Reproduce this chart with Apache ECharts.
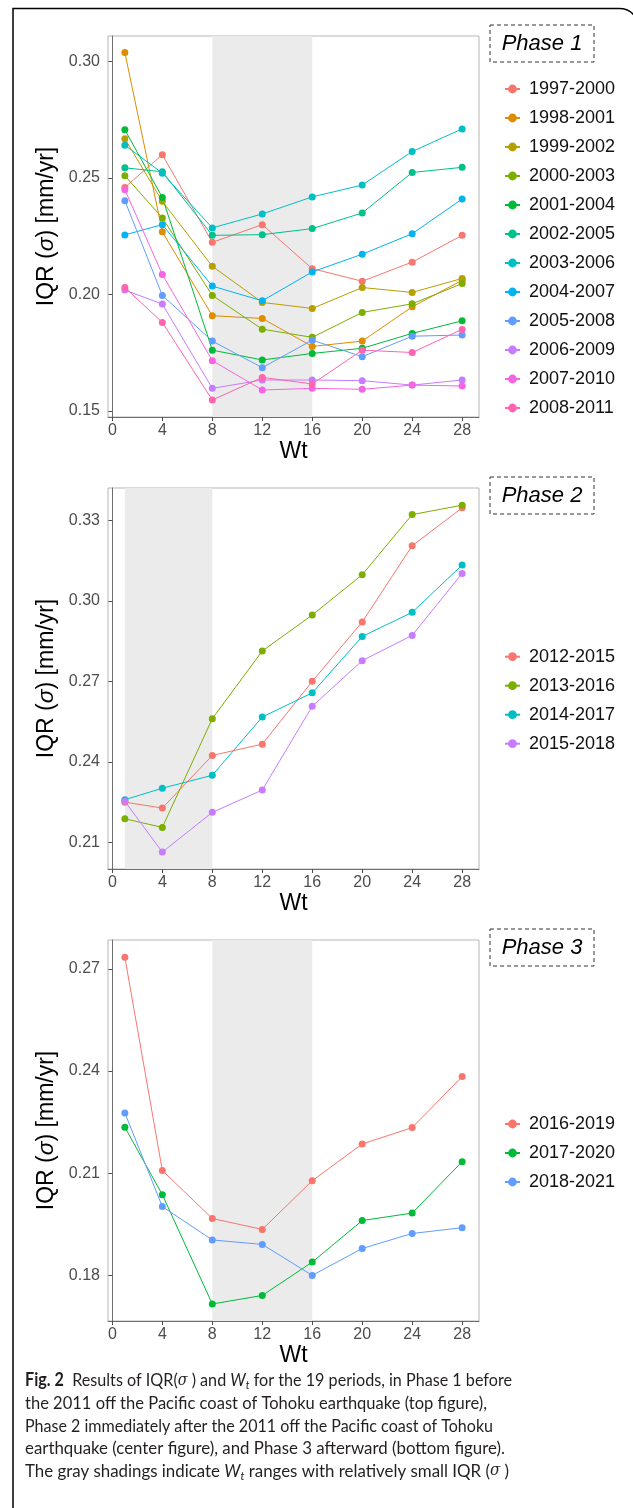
<!DOCTYPE html>
<html>
<head>
<meta charset="utf-8">
<script src="https://cdn.jsdelivr.net/npm/echarts@6/dist/echarts.min.js"></script>
<style>
  html, body { margin: 0; padding: 0; background: #ffffff; }
  #chart { width: 633px; height: 1508px; }
</style>
</head>
<body>
<div id="chart"></div>
<script>
// ---------------- data ----------------
const wt = [1, 4, 8, 12, 16, 20, 24, 28];
const xTicks = [0, 4, 8, 12, 16, 20, 24, 28];

const p1Periods = ['1997-2000', '1998-2001', '1999-2002', '2000-2003', '2001-2004', '2002-2005',
                   '2003-2006', '2004-2007', '2005-2008', '2006-2009', '2007-2010', '2008-2011'];
const p1Values = [
  [0.2460, 0.2600, 0.2224, 0.2300, 0.2111, 0.2057, 0.2139, 0.2254],
  [0.3039, 0.2269, 0.1909, 0.1897, 0.1777, 0.1800, 0.1947, 0.2061],
  [0.2669, 0.2400, 0.2121, 0.1966, 0.1940, 0.2030, 0.2009, 0.2069],
  [0.2510, 0.2329, 0.1996, 0.1851, 0.1816, 0.1923, 0.1960, 0.2047],
  [0.2707, 0.2417, 0.1761, 0.1719, 0.1747, 0.1769, 0.1833, 0.1887],
  [0.2544, 0.2527, 0.2254, 0.2257, 0.2283, 0.2350, 0.2524, 0.2546],
  [0.2641, 0.2521, 0.2286, 0.2346, 0.2419, 0.2470, 0.2614, 0.2711],
  [0.2256, 0.2300, 0.2036, 0.1973, 0.2097, 0.2173, 0.2261, 0.2410],
  [0.2403, 0.1996, 0.1800, 0.1686, 0.1804, 0.1733, 0.1821, 0.1826],
  [0.2019, 0.1959, 0.1597, 0.1633, 0.1633, 0.1630, 0.1611, 0.1633],
  [0.2450, 0.2086, 0.1716, 0.1590, 0.1597, 0.1593, 0.1611, 0.1607],
  [0.2030, 0.1880, 0.1547, 0.1644, 0.1616, 0.1761, 0.1751, 0.1850]
];
const p1YTicks = [0.15, 0.20, 0.25, 0.30];
const p1Shade = [8, 16];

const p2Periods = ['2012-2015', '2013-2016', '2014-2017', '2015-2018'];
const p2Values = [
  [0.2250, 0.2228, 0.2424, 0.2466, 0.2700, 0.2921, 0.3205, 0.3346],
  [0.2188, 0.2156, 0.2561, 0.2813, 0.2947, 0.3097, 0.3321, 0.3356],
  [0.2259, 0.2302, 0.2350, 0.2567, 0.2657, 0.2867, 0.2957, 0.3133],
  [0.2253, 0.2064, 0.2212, 0.2295, 0.2607, 0.2777, 0.2871, 0.3102]
];
const p2YTicks = [0.21, 0.24, 0.27, 0.30, 0.33];
const p2Shade = [1, 8];

const p3Periods = ['2016-2019', '2017-2020', '2018-2021'];
const p3Values = [
  [0.2734, 0.2108, 0.1967, 0.1935, 0.2078, 0.2186, 0.2234, 0.2384],
  [0.2235, 0.2037, 0.1716, 0.1741, 0.1839, 0.1961, 0.1983, 0.2134],
  [0.2277, 0.2002, 0.1904, 0.1891, 0.1800, 0.1879, 0.1923, 0.1940]
];
const p3YTicks = [0.18, 0.21, 0.24, 0.27];
const p3Shade = [8, 16];

const capLines = [
  '{b|Fig. 2}  Results of IQR({i|\u03c3} ) and {w|W}{sub|t} for the 19 periods, in Phase 1 before',
  'the 2011 off the Pacific coast of Tohoku earthquake (top figure),',
  'Phase 2 immediately after the 2011 off the Pacific coast of Tohoku',
  'earthquake (center figure), and Phase 3 afterward (bottom figure).',
  'The gray shadings indicate {w|W}{sub|t} ranges with relatively small IQR ({i|\u03c3} )'
];

// ---------------- styles / layout ----------------
const p1Colors = ['#F8766D', '#DE8C00', '#B79F00', '#7CAE00', '#00BA38', '#00C08B',
                  '#00BFC4', '#00B4F0', '#619CFF', '#C77CFF', '#F564E3', '#FF64B0'];
const p2Colors = ['#F8766D', '#7CAE00', '#00BFC4', '#C77CFF'];
const p3Colors = ['#F8766D', '#00BA38', '#619CFF'];
const capRightEdges = [512, 487, 493, 505, 509];

const FONT = "'Liberation Sans', Arial, sans-serif";
const panels = [
  { periods: p1Periods, values: p1Values, colors: p1Colors, yTicks: p1YTicks, shade: p1Shade,
    top: 36, yMin: 0.1474, yMax: 0.3110, legendTop: 74, boxTop: 25, label: 'Phase 1' },
  { periods: p2Periods, values: p2Values, colors: p2Colors, yTicks: p2YTicks, shade: p2Shade,
    top: 488, yMin: 0.2001, yMax: 0.3420, legendTop: 641.7, boxTop: 477, label: 'Phase 2' },
  { periods: p3Periods, values: p3Values, colors: p3Colors, yTicks: p3YTicks, shade: p3Shade,
    top: 940, yMin: 0.1666, yMax: 0.2785, legendTop: 1109, boxTop: 929, label: 'Phase 3' }
];

const grids = [], xAxes = [], yAxes = [], series = [], legends = [], graphics = [];

panels.forEach((p, k) => {
  grids.push({ left: 108, top: p.top, width: 371, height: 381, show: true,
               borderColor: '#b5b5b5', borderWidth: 1, backgroundColor: '#ffffff' });
  xAxes.push({
    gridIndex: k, type: 'value', min: -0.35, max: 29.35,
    name: 'Wt', nameLocation: 'middle', nameGap: 22,
    nameTextStyle: { fontFamily: FONT, fontSize: 23, color: '#000000' },
    axisLine: { show: true, lineStyle: { color: '#6e6e6e', width: 1 } },
    axisTick: { show: true, length: 4, customValues: xTicks, lineStyle: { color: '#4d4d4d' } },
    axisLabel: { customValues: xTicks, margin: 6, fontFamily: FONT, fontSize: 16, color: '#4d4d4d' },
    splitLine: { show: false }
  });
  yAxes.push({
    gridIndex: k, type: 'value', min: p.yMin, max: p.yMax,
    name: 'IQR ({s|\u03c3}) [mm/yr]', nameLocation: 'middle', nameGap: 45, nameRotate: 90,
    nameTextStyle: { fontFamily: FONT, fontSize: 23, color: '#000000',
                     rich: { s: { fontFamily: FONT, fontSize: 23, fontStyle: 'italic', color: '#000000' } } },
    axisLine: { show: true, lineStyle: { color: '#6e6e6e', width: 1 } },
    axisTick: { show: true, length: 4, customValues: p.yTicks, lineStyle: { color: '#4d4d4d' } },
    axisLabel: { customValues: p.yTicks, margin: 8, fontFamily: FONT, fontSize: 16, color: '#4d4d4d',
                 formatter: v => v.toFixed(2) },
    splitLine: { show: false }
  });
  p.periods.forEach((name, i) => {
    const s = {
      name: name, type: 'line', xAxisIndex: k, yAxisIndex: k,
      data: wt.map((w, j) => [w, p.values[i][j]]),
      symbol: 'circle', symbolSize: 7, showSymbol: true,
      color: p.colors[i],
      lineStyle: { width: 1, color: p.colors[i] },
      itemStyle: { color: p.colors[i] },
      z: 3, animation: false
    };
    if (i === 0) {
      s.markArea = { silent: true, z: 1, itemStyle: { color: '#EBEBEB' },
                     data: [[{ xAxis: p.shade[0] }, { xAxis: p.shade[1] }]] };
    }
    series.push(s);
  });
  legends.push({
    data: p.periods, orient: 'vertical', left: 499, top: p.legendTop,
    itemWidth: 15, itemHeight: 11, itemGap: 9, selectedMode: false,
    itemStyle: { borderWidth: 0 },
    textStyle: { fontFamily: FONT, fontSize: 18, color: '#111111', lineHeight: 20, padding: [0, 0, 0, 4] }
  });
  graphics.push({
    type: 'rect',
    shape: { x: 490, y: p.boxTop, width: 104, height: 37 },
    style: { fill: 'none', stroke: '#333333', lineWidth: 1, lineDash: [4, 3] }
  });
  graphics.push({
    type: 'text', x: 542, y: p.boxTop + 18.5,
    style: { text: p.label, font: "italic 22px 'Liberation Sans', Arial, sans-serif",
             fill: '#000000', align: 'center', verticalAlign: 'middle' }
  });
});

// figure frame
graphics.push({
  type: 'polyline', shape: { points: [[13, 1512], [13, 8.5], [619, 8.5]] },
  style: { fill: 'none', stroke: '#000000', lineWidth: 1.5 }
});
graphics.push({
  type: 'bezierCurve', shape: { x1: 619, y1: 8.5, cpx1: 634, cpy1: 8.5, x2: 638, y2: 24 },
  style: { fill: 'none', stroke: '#000000', lineWidth: 1.5 }
});

// caption
const capFont = "Lato, 'Open Sans', sans-serif";
const capFonts = {
  base: "18px Lato, 'Open Sans', sans-serif",
  b: "bold 18px Lato, 'Open Sans', sans-serif",
  i: "italic 16px 'DejaVu Serif', serif",
  w: "italic 18px Lato, 'Open Sans', sans-serif",
  sub: "italic 12px Lato, 'Open Sans', sans-serif"
};
const capRich = {
  b: { fontFamily: capFont, fontSize: 18, fontWeight: 'bold', fill: '#231f20', lineHeight: 22 },
  i: { fontFamily: "'DejaVu Serif', serif", fontStyle: 'italic', fontSize: 16, fill: '#231f20', lineHeight: 22 },
  w: { fontFamily: capFont, fontStyle: 'italic', fontSize: 18, fill: '#231f20', lineHeight: 22 },
  sub: { fontFamily: capFont, fontStyle: 'italic', fontSize: 12, fill: '#231f20', lineHeight: 12, verticalAlign: 'bottom' }
};
const mctx = document.createElement('canvas').getContext('2d');
function measureRich(line) {
  let w = 0, last = 0;
  const re = /\{(\w+)\|([^}]*)\}/g;
  let m;
  while ((m = re.exec(line)) !== null) {
    mctx.font = capFonts.base;
    w += mctx.measureText(line.slice(last, m.index)).width;
    mctx.font = capFonts[m[1]];
    w += mctx.measureText(m[2]).width;
    last = re.lastIndex;
  }
  mctx.font = capFonts.base;
  w += mctx.measureText(line.slice(last)).width;
  return w;
}
capLines.forEach((t, i) => {
  const y = 1380.5 + i * 22.7;
  const sx = (capRightEdges[i] - 25) / measureRich(t);
  graphics.push({
    type: 'text', x: 25, y: y, scaleX: sx, originX: 0, originY: 0,
    style: { text: t, fontFamily: capFont, fontSize: 18, fill: '#231f20',
             verticalAlign: 'middle', lineHeight: 22, rich: capRich }
  });
});

const chart = echarts.init(document.getElementById('chart'), null, { renderer: 'canvas' });
chart.setOption({
  backgroundColor: '#ffffff',
  animation: false,
  grid: grids, xAxis: xAxes, yAxis: yAxes, series: series, legend: legends, graphic: graphics
});
</script>
</body>
</html>
